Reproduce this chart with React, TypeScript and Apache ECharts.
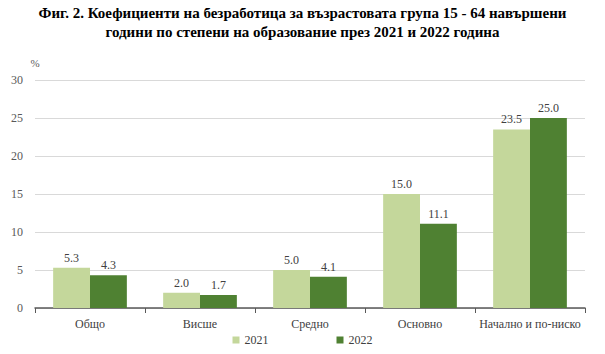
import React, { useEffect, useRef } from "react";
import * as echarts from "echarts";

const categories = ["Общо", "Висше", "Средно", "Основно", "Начално и по-ниско"];
const values2021 = [5.3, 2.0, 5.0, 15.0, 23.5];
const values2022 = [4.3, 1.7, 4.1, 11.1, 25.0];
const seriesNames = ["2021", "2022"];
const titleText = "Фиг. 2. Коефициенти на безработица за възрастовата група 15 - 64 навършени\nгодини по степени на образование през 2021 и 2022 година";

const FONT = "Times New Roman, Liberation Serif, DejaVu Serif, serif";

export default function App() {
  const ref = useRef<HTMLDivElement>(null);
  useEffect(() => {
    if (!ref.current) return;
    const chart = echarts.init(ref.current, undefined, { renderer: "svg" });
    const label = {
      show: true,
      position: "top" as const,
      distance: 4,
      color: "#404040",
      fontFamily: FONT,
      fontSize: 12,
      formatter: (p: any) => Number(p.value).toFixed(1),
    };
    chart.setOption({
      animation: false,
      backgroundColor: "#ffffff",
      textStyle: { fontFamily: FONT },
      title: {
        text: titleText,
        left: "center",
        top: -2,
        textStyle: {
          fontFamily: FONT,
          fontWeight: "bold",
          fontSize: 15,
          color: "#000000",
          lineHeight: 19,
        },
      },
      legend: {
        bottom: 3,
        left: "center",
        itemWidth: 7,
        itemHeight: 7,
        itemGap: 68,
        icon: "rect",
        textStyle: { fontFamily: FONT, fontSize: 12, color: "#404040" },
        data: seriesNames,
      },
      grid: { left: 35, right: 20, top: 80, bottom: 46, containLabel: false },
      xAxis: {
        type: "category",
        data: categories,
        axisLine: { lineStyle: { color: "#595959", width: 1.5 } },
        axisTick: { show: true, alignWithLabel: false, length: 5, lineStyle: { color: "#595959" } },
        axisLabel: { fontFamily: FONT, fontSize: 12, color: "#404040", margin: 10, interval: 0 },
      },
      yAxis: {
        type: "value",
        min: 0,
        max: 30,
        interval: 5,
        name: "%",
        nameLocation: "end",
        nameGap: 12,
        nameTextStyle: { fontFamily: FONT, fontSize: 11, color: "#595959", align: "center" },
        axisLine: { show: false },
        axisTick: { show: false },
        splitLine: { lineStyle: { color: "#d9d9d9", width: 1 } },
        axisLabel: { fontFamily: FONT, fontSize: 12, color: "#595959", margin: 12 },
      },
      series: [
        {
          name: seriesNames[0],
          type: "bar",
          data: values2021,
          barGap: "0%",
          barCategoryGap: "33%",
          itemStyle: { color: "#c4d79b" },
          label,
        },
        {
          name: seriesNames[1],
          type: "bar",
          data: values2022,
          barGap: "0%",
          barCategoryGap: "33%",
          itemStyle: { color: "#4f8132" },
          label,
        },
      ],
    });
    return () => chart.dispose();
  }, []);
  return <div ref={ref} style={{ width: 605, height: 354, margin: -8 }} />;
}
